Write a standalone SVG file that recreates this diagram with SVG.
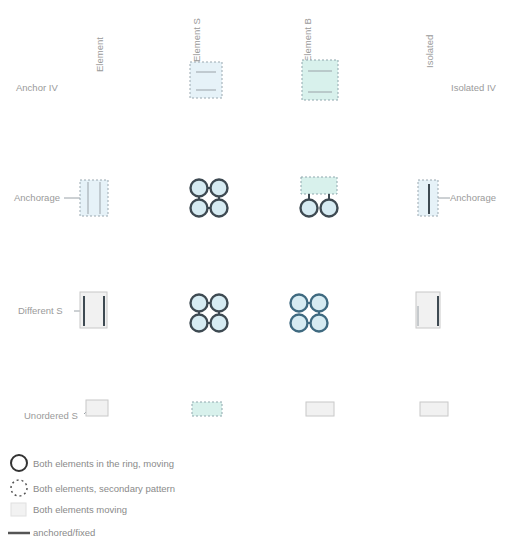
<svg xmlns="http://www.w3.org/2000/svg" width="516" height="541" viewBox="0 0 516 541">
<defs>
<style>
.lbl{font-family:"Liberation Sans",Arial,sans-serif;font-size:9.5px;fill:#9a9a9a}
.leg{font-family:"Liberation Sans",Arial,sans-serif;font-size:9.5px;fill:#8a8a8a}
.ring{fill:#d6ebf2;stroke:#3e4a52;stroke-width:2.4}
.ringd{fill:#cfeee9;stroke:#6f8e96;stroke-width:1.4;stroke-dasharray:2 2}
.ringb{fill:#d6ebf2;stroke:#3f6a80;stroke-width:2.4}
.box{fill:#e6f2f8;stroke:#9aa8b0;stroke-width:1;stroke-dasharray:2 2}
.boxt{fill:#d8f1ec;stroke:#8fa7ad;stroke-width:1;stroke-dasharray:2 2}
.boxg{fill:#f1f1f1;stroke:#c8c8c8;stroke-width:1}
.lnk{stroke:#3e4a52;stroke-width:2}
.thin{stroke:#9aa2a8;stroke-width:1;fill:none}
</style>
<g id="quad">
<line class="lnk" x1="-10" y1="-10" x2="10" y2="-10"/><line class="lnk" x1="-10" y1="10" x2="10" y2="10"/>
<line class="lnk" x1="-10" y1="-10" x2="-10" y2="10"/><line class="lnk" x1="10" y1="-10" x2="10" y2="10"/>
<circle class="ring" cx="-10" cy="-10" r="8.5"/><circle class="ring" cx="10" cy="-10" r="8.5"/>
<circle class="ring" cx="-10" cy="10" r="8.5"/><circle class="ring" cx="10" cy="10" r="8.5"/>
</g>
</defs>

<g id="headers">
<text class="lbl" transform="translate(103,72) rotate(-90)">Element</text>
<text class="lbl" transform="translate(200,62) rotate(-90)">Element S</text>
<text class="lbl" transform="translate(311,62) rotate(-90)">Element B</text>
<text class="lbl" transform="translate(433,68) rotate(-90)">Isolated</text>
</g>

<g id="row-labels">
<text class="lbl" x="16" y="91">Anchor IV</text>
<text class="lbl" x="451" y="91">Isolated IV</text>
<text class="lbl" x="14" y="201">Anchorage</text>
<text class="lbl" x="450" y="201">Anchorage</text>
<text class="lbl" x="18" y="314">Different S</text>
<text class="lbl" x="24" y="419">Unordered S</text>
</g>

<g id="connectors">
<line class="thin" x1="64" y1="198" x2="80" y2="198"/>
<line class="thin" x1="436" y1="198" x2="450" y2="198"/>
<line class="thin" x1="74" y1="311" x2="82" y2="311"/>
<line class="thin" x1="84" y1="414" x2="90" y2="408"/>
</g>

<g id="n-r1c2">
<rect class="box" x="190" y="62" width="32" height="36"/>
<line class="thin" x1="196" y1="72" x2="216" y2="72"/><line class="thin" x1="196" y1="90" x2="216" y2="90"/>
</g>
<g id="n-r1c3">
<rect class="boxt" x="302" y="60" width="36" height="40"/>
<line class="thin" x1="308" y1="71" x2="332" y2="71"/><line class="thin" x1="308" y1="92" x2="332" y2="92"/>
</g>

<g id="n-r2c1">
<rect class="box" x="80" y="180" width="28" height="36"/>
<line class="thin" x1="88" y1="182" x2="88" y2="214"/><line class="thin" x1="100" y1="182" x2="100" y2="214"/>
</g>
<g id="n-r2c2"><use href="#quad" x="209" y="198"/></g>
<g id="n-r2c3">
<rect class="boxt" x="301" y="177" width="36" height="17"/>
<line class="lnk" x1="309" y1="194" x2="309" y2="206"/><line class="lnk" x1="329" y1="194" x2="329" y2="206"/>
<circle class="ring" cx="309" cy="208" r="8.5"/><circle class="ring" cx="329" cy="208" r="8.5"/>
</g>
<g id="n-r2c4">
<rect class="box" x="418" y="180" width="20" height="36"/>
<line class="lnk" x1="429" y1="184" x2="429" y2="214" stroke-width="1.5"/>
</g>

<g id="n-r3c1">
<rect class="boxg" x="80" y="292" width="27" height="36" fill="#f4f4f4"/>
<line class="lnk" x1="84" y1="296" x2="84" y2="326"/><line class="lnk" x1="104" y1="296" x2="104" y2="326"/>
</g>
<g id="n-r3c2"><use href="#quad" x="209" y="313"/></g>
<g id="n-r3c3">
<line x1="299" y1="303" x2="319" y2="303" stroke="#3f6a80" stroke-width="2"/>
<line x1="299" y1="323" x2="319" y2="323" stroke="#3f6a80" stroke-width="2"/>
<line x1="319" y1="303" x2="319" y2="323" stroke="#3f6a80" stroke-width="2"/>
<circle class="ringb" cx="299" cy="303" r="8.5"/><circle class="ringb" cx="319" cy="303" r="8.5"/>
<circle class="ringb" cx="299" cy="323" r="8.5"/><circle class="ringb" cx="319" cy="323" r="8.5"/>
</g>
<g id="n-r3c4">
<rect class="boxg" x="416" y="292" width="24" height="36"/>
<line class="lnk" x1="438" y1="296" x2="438" y2="326"/>
<line class="thin" x1="418" y1="306" x2="418" y2="326"/>
</g>

<g id="n-r4c1"><rect class="boxg" x="86" y="400" width="22" height="16"/></g>
<g id="n-r4c2"><rect class="boxt" x="192" y="402" width="30" height="14"/></g>
<g id="n-r4c3"><rect class="boxg" x="306" y="402" width="28" height="14"/></g>
<g id="n-r4c4"><rect class="boxg" x="420" y="402" width="28" height="14"/></g>

<g id="legend">
<circle cx="19" cy="463" r="8" fill="#fff" stroke="#333" stroke-width="2"/>
<text class="leg" x="33" y="467">Both elements in the ring, moving</text>
<circle cx="19" cy="488" r="8" fill="#fff" stroke="#555" stroke-width="1.5" stroke-dasharray="2 3"/>
<text class="leg" x="33" y="492">Both elements, secondary pattern</text>
<rect x="11" y="503" width="15" height="13" fill="#f2f2f2" stroke="#e0e0e0"/>
<text class="leg" x="33" y="513">Both elements moving</text>
<line x1="8" y1="533" x2="30" y2="533" stroke="#555" stroke-width="2.5"/>
<text class="leg" x="33" y="536">anchored/fixed</text>
</g>
</svg>
